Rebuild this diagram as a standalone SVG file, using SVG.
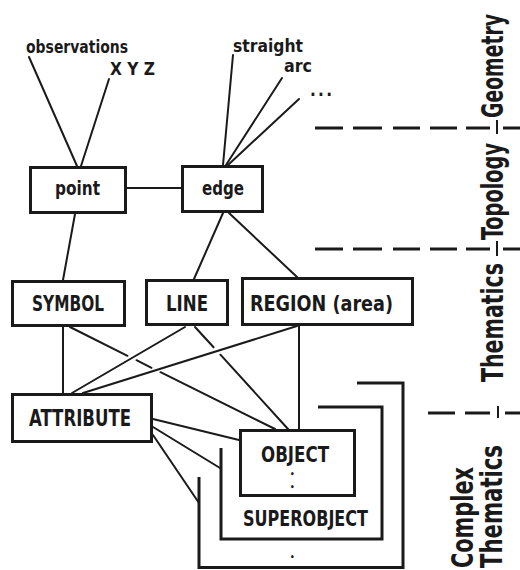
<svg xmlns="http://www.w3.org/2000/svg" width="520" height="570" viewBox="0 0 520 570">
<style>
text{font-family:'DejaVu Sans Condensed','DejaVu Sans','Liberation Sans',sans-serif;font-weight:bold;fill:#1a1a1a}
.box{fill:#fff;stroke:#1a1a1a;stroke-width:3}
.c line,.c polyline{stroke:#1a1a1a;stroke-width:2;fill:none;stroke-linecap:round}
.br{stroke:#1a1a1a;stroke-width:3;fill:none}
.d line{stroke:#1a1a1a;stroke-width:3}
.t{stroke:#1a1a1a;stroke-width:2}
.s17{font-size:17px}.s20{font-size:20px}.s22{font-size:22px}.s23{font-size:23px}.s21{font-size:21px}
.lab{font-size:21px}
</style>
<rect width="520" height="570" fill="#fff"/>
<g id="connectors" class="c">
<line x1="29" y1="57" x2="77" y2="166"/>
<line x1="109" y1="79" x2="81" y2="166"/>
<line x1="233" y1="55" x2="223" y2="165"/>
<line x1="282" y1="78" x2="226" y2="165"/>
<line x1="299" y1="99" x2="228" y2="165"/>
<line x1="127" y1="188" x2="181" y2="188"/>
<line x1="75" y1="214" x2="63" y2="280"/>
<line x1="223" y1="213" x2="194" y2="279"/>
<line x1="229" y1="213" x2="297" y2="277"/>
<line x1="63" y1="327" x2="63" y2="393"/>
<line x1="70" y1="327" x2="127.5" y2="355.8"/>
<line x1="136.5" y1="360.2" x2="151.5" y2="367.8"/>
<line x1="160.5" y1="372.2" x2="275" y2="429"/>
<line x1="195" y1="327" x2="213.6" y2="347.3"/>
<line x1="220.4" y1="354.7" x2="288" y2="429"/>
<line x1="185" y1="327" x2="72" y2="393"/>
<line x1="297" y1="326" x2="83" y2="393"/>
<line x1="299" y1="326" x2="299" y2="429"/>
<line x1="153" y1="419" x2="239" y2="440"/>
<line x1="153" y1="427" x2="220" y2="468"/>
<line x1="153" y1="435" x2="199" y2="503"/>
</g>
<g id="geometry-labels">
<text class="s17" x="26" y="53" textLength="102" lengthAdjust="spacingAndGlyphs">observations</text>
<text class="s17" x="110" y="75" textLength="45" lengthAdjust="spacingAndGlyphs">X Y Z</text>
<text class="s17" x="233" y="52" textLength="70" lengthAdjust="spacingAndGlyphs">straight</text>
<text class="s17" x="284" y="72" textLength="28" lengthAdjust="spacingAndGlyphs">arc</text>
<text class="s17" x="310" y="96" textLength="22" lengthAdjust="spacing">...</text>
</g>
<g id="point"><rect class="box" x="30.5" y="167.5" width="95" height="45"/><text class="s20" x="55" y="195" textLength="45" lengthAdjust="spacingAndGlyphs">point</text></g>
<g id="edge"><rect class="box" x="182.5" y="166.5" width="80" height="45"/><text class="s20" x="202" y="195" textLength="42" lengthAdjust="spacingAndGlyphs">edge</text></g>
<g id="symbol"><rect class="box" x="12.5" y="281.5" width="112" height="44"/><text class="s22" x="32" y="311" textLength="72" lengthAdjust="spacingAndGlyphs">SYMBOL</text></g>
<g id="line"><rect class="box" x="146.5" y="280.5" width="81" height="44"/><text class="s22" x="166" y="311" textLength="42" lengthAdjust="spacingAndGlyphs">LINE</text></g>
<g id="region"><rect class="box" x="242.5" y="278.5" width="170" height="46"/><text class="s22" x="250" y="311" textLength="143" lengthAdjust="spacingAndGlyphs">REGION (area)</text></g>
<g id="attribute"><rect class="box" x="12.5" y="394.5" width="139" height="47"/><text class="s23" x="29" y="426" textLength="102" lengthAdjust="spacingAndGlyphs">ATTRIBUTE</text></g>
<g id="superobject-outer"><polyline class="br" points="199,477 199,567.5 403,567.5 403,383 357,383"/><text font-size="8" x="290" y="560">•</text></g>
<g id="superobject"><polyline class="br" points="221,448 221,539 382,539 382,407 318,407"/><text class="s22" x="243" y="526" textLength="125" lengthAdjust="spacingAndGlyphs">SUPEROBJECT</text></g>
<g id="object"><rect class="box" x="240.5" y="430.5" width="114" height="65"/><text class="s21" x="261" y="462" textLength="68" lengthAdjust="spacingAndGlyphs">OBJECT</text><text font-size="8" x="290" y="477">•</text><text font-size="8" x="290" y="490">•</text></g>
<g id="layers" class="d">
<line x1="315" y1="128" x2="343" y2="128"/><line x1="353" y1="128" x2="382" y2="128"/><line x1="393" y1="128" x2="420" y2="128"/><line x1="430" y1="128" x2="457" y2="128"/><line x1="466" y1="128" x2="490" y2="128"/><line x1="503" y1="128" x2="520" y2="128"/>
<line x1="315" y1="249" x2="343" y2="249"/><line x1="353" y1="249" x2="382" y2="249"/><line x1="393" y1="249" x2="420" y2="249"/><line x1="430" y1="249" x2="457" y2="249"/><line x1="466" y1="249" x2="490" y2="249"/><line x1="503" y1="249" x2="520" y2="249"/>
<line x1="428" y1="413" x2="455" y2="413"/><line x1="465" y1="413" x2="490" y2="413"/><line x1="505" y1="413" x2="520" y2="413"/>
</g>
<g id="ticks">
<line class="t" x1="497" y1="120" x2="497" y2="134"/>
<line class="t" x1="497" y1="241" x2="497" y2="256"/>
<line class="t" x1="498" y1="406" x2="498" y2="418"/>
</g>
<g id="layer-labels">
<text class="lab" transform="translate(503,118) rotate(-90) scale(1,1.43)" textLength="104" lengthAdjust="spacingAndGlyphs">Geometry</text>
<text class="lab" transform="translate(503,240) rotate(-90) scale(1,1.43)" textLength="97" lengthAdjust="spacingAndGlyphs">Topology</text>
<text class="lab" transform="translate(503,382) rotate(-90) scale(1,1.43)" textLength="119" lengthAdjust="spacingAndGlyphs">Thematics</text>
<text class="lab" transform="translate(473,568) rotate(-90) scale(1,1.43)" textLength="101" lengthAdjust="spacingAndGlyphs">Complex</text>
<text class="lab" transform="translate(502,568) rotate(-90) scale(1,1.43)" textLength="123" lengthAdjust="spacingAndGlyphs">Thematics</text>
</g>
</svg>
